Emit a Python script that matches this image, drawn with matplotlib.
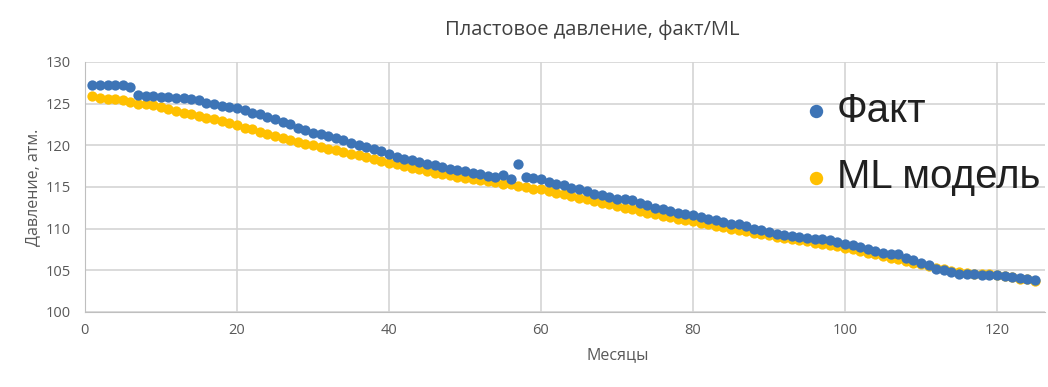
import matplotlib.pyplot as plt
import numpy as np

plt.rcParams['font.family'] = ['Open Sans', 'DejaVu Sans']

months = list(range(1, 126))

fact = [127.2, 127.2, 127.2, 127.2, 127.2, 127.0, 126.0, 125.9, 125.9, 125.8,
        125.8, 125.7, 125.7, 125.6, 125.4, 125.1, 124.9, 124.7, 124.6, 124.5,
        124.2, 123.9, 123.7, 123.4, 123.2, 122.8, 122.5, 122.1, 121.8, 121.5,
        121.3, 121.1, 120.9, 120.6, 120.3, 120.0, 119.8, 119.6, 119.3, 118.9,
        118.6, 118.4, 118.2, 118.0, 117.8, 117.6, 117.4, 117.2, 117.0, 116.9,
        116.7, 116.5, 116.3, 116.2, 116.4, 115.9, 117.8, 116.2, 116.1, 115.9,
        115.6, 115.4, 115.2, 114.9, 114.7, 114.5, 114.2, 114.0, 113.8, 113.6,
        113.5, 113.4, 113.1, 112.8, 112.5, 112.4, 112.1, 111.9, 111.8, 111.6,
        111.4, 111.2, 111.0, 110.8, 110.6, 110.5, 110.3, 110.0, 109.8, 109.6,
        109.4, 109.2, 109.1, 109.0, 108.9, 108.8, 108.7, 108.6, 108.4, 108.2,
        108.0, 107.8, 107.5, 107.3, 107.1, 107.0, 106.9, 106.5, 106.2, 105.9,
        105.6, 105.2, 105.0, 104.8, 104.6, 104.5, 104.5, 104.4, 104.4, 104.4,
        104.3, 104.2, 104.1, 104.0, 103.8]

ml = [125.9, 125.7, 125.6, 125.5, 125.4, 125.2, 125.0, 124.9, 124.8, 124.6,
      124.3, 124.1, 123.9, 123.7, 123.5, 123.3, 123.1, 122.9, 122.7, 122.4,
      122.1, 121.9, 121.6, 121.4, 121.1, 120.9, 120.6, 120.4, 120.2, 120.0,
      119.8, 119.6, 119.4, 119.2, 119.0, 118.8, 118.6, 118.4, 118.1, 117.9,
      117.7, 117.5, 117.3, 117.1, 116.9, 116.7, 116.5, 116.4, 116.2, 116.1,
      116.0, 115.8, 115.7, 115.6, 115.4, 115.3, 115.1, 115.0, 114.8, 114.7,
      114.5, 114.3, 114.1, 113.9, 113.7, 113.5, 113.3, 113.1, 112.9, 112.7,
      112.5, 112.3, 112.1, 111.9, 111.7, 111.5, 111.4, 111.2, 111.0, 110.9,
      110.7, 110.5, 110.3, 110.2, 110.0, 109.8, 109.7, 109.5, 109.3, 109.2,
      109.0, 108.9, 108.7, 108.6, 108.5, 108.3, 108.2, 108.0, 107.9, 107.7,
      107.5, 107.3, 107.1, 106.9, 106.7, 106.5, 106.3, 106.1, 105.9, 105.7,
      105.5, 105.3, 105.1, 104.9, 104.8, 104.7, 104.6, 104.6, 104.5, 104.4,
      104.3, 104.2, 104.0, 103.9, 103.7]

blue = '#3d74b6'
yellow = '#ffc000'
grey = '#595959'

fig = plt.figure(figsize=(10.48, 3.87), dpi=100)
ax = fig.add_axes([0.081, 0.194, 0.916, 0.646])

ax.scatter(months, ml, s=55, color=yellow, label='ML модель', zorder=3, linewidths=0)
ax.scatter(months, fact, s=55, color=blue, label='Факт', zorder=4, linewidths=0)

ax.set_xlim(0, 126.3)
ax.set_ylim(100, 130)
ax.set_xticks(range(0, 121, 20))
ax.set_yticks(range(100, 131, 5))
ax.grid(True, color='#d4d4d4', linewidth=1.2)
ax.set_axisbelow(True)
for s in ['top', 'right']:
    ax.spines[s].set_visible(False)
for s in ['left', 'bottom']:
    ax.spines[s].set_color('#bfbfbf')
ax.tick_params(length=0, labelsize=10.5, colors=grey)
ax.tick_params(axis='y', pad=10)
ax.tick_params(axis='x', pad=8)

ax.set_ylabel('Давление, атм.', fontsize=11.5, color=grey, labelpad=3)
fig.text(618 / 1048, 1 - 355 / 387, 'Месяцы', fontsize=11.5, color=grey, ha='center', va='center')
fig.text(592 / 1048, 1 - 30 / 387, 'Пластовое давление, факт/ML', fontsize=14.5, color='#404040',
         ha='center', va='center')

h, l = ax.get_legend_handles_labels()
leg = ax.legend(h[::-1], l[::-1], loc='upper right', bbox_to_anchor=(1.027, 0.856),
                bbox_transform=fig.transFigure, frameon=False, markerscale=1.3,
                handletextpad=0.12, labelspacing=0.7, handlelength=0.8,
                prop={'family': 'Liberation Sans', 'size': 29})
for t in leg.get_texts():
    t.set_color('#202020')

fig.savefig('out.png', dpi=100)
